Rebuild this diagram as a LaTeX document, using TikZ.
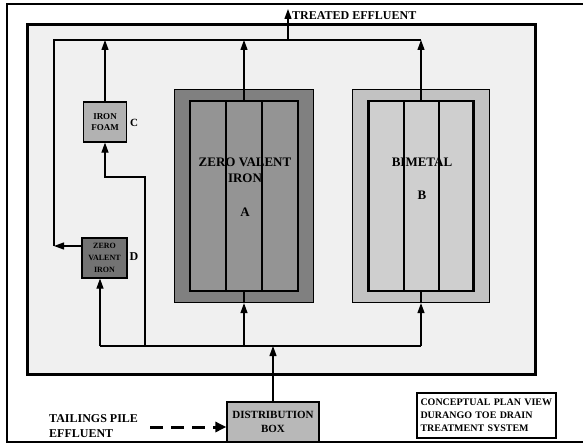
\documentclass[tikz,border=0pt]{standalone}
\usepackage{fontspec}
\setmainfont{Liberation Serif}
\usetikzlibrary{arrows.meta}
\newcommand\fsz[2]{\fontsize{#1}{#2}\selectfont\bfseries}

\begin{document}
\begin{tikzpicture}[x=1pt,y=-1pt,
  pipe/.style={line width=1.2pt},
  flow/.style={line width=1.2pt,-{Triangle[length=10pt,width=7pt]}},
  feedline/.style={line width=3pt,dash pattern=on 13pt off 8pt,-{Triangle[length=11pt,width=10pt]}},
  unit/.style={draw,line width=1.2pt,inner sep=0pt},
  cell/.style={draw,line width=2.2pt,inner sep=0pt,minimum height=190pt}]
\useasboundingbox (0,0) rectangle (583,444);
\fill[white] (0,0) rectangle (583,444);
\draw[line width=1.2pt] (583,4) -- (7,4) -- (7,442) -- (583,442);
\draw[line width=3pt,fill=black!6] (27,25) rectangle (535,374);

% reactor cells
\node[unit,fill=black!50,minimum width=139pt,minimum height=213pt] (A) at (244,196) {};
\node[cell,fill=black!42,minimum width=108pt] (Ain) at (A) {};
\draw[line width=2pt] (226,101) -- (226,291) (262,101) -- (262,291);
\node[unit,fill=black!24,minimum width=137pt,minimum height=213pt] (B) at (421,196) {};
\node[cell,fill=black!19,minimum width=105pt] (Bin) at (B) {};
\draw[line width=2pt] (403.5,101) -- (403.5,291) (438.5,101) -- (438.5,291);
\node[font=\fsz{13}{16},align=center] (Alab) at (245,170) {ZERO VALENT\\IRON};
\node[font=\fsz{13}{16}] (Aletter) at (245,212) {A};
\node[font=\fsz{13}{16}] (Blab) at (422,162) {BIMETAL};
\node[font=\fsz{13}{16}] (Bletter) at (422,195) {B};

% small units
\node[unit,fill=black!30,minimum width=43pt,minimum height=40pt,font=\fsz{9}{11},align=center] (foam) at (105,122) {IRON\\FOAM};
\node[font=\fsz{11}{13}] (Clab) at (134,123) {C};
\node[unit,fill=black!55,minimum width=45pt,minimum height=40pt,font=\fsz{8}{12},align=center] (zvi) at (104.5,258) {ZERO\\VALENT\\IRON};
\node[font=\fsz{12}{14}] (Dlab) at (134,257) {D};
\node[unit,fill=black!28,minimum width=92pt,minimum height=40pt,font=\fsz{11}{14},align=center] (dist) at (273,422) {DISTRIBUTION\\BOX};

% texts
\node[font=\fsz{12}{14},anchor=west,inner sep=0pt] (treated) at (292,16) {TREATED EFFLUENT};
\node[font=\fsz{12}{15},align=left,anchor=west,inner sep=0pt] (tail) at (49,426) {TAILINGS PILE\\EFFLUENT};
\node[draw,line width=1.2pt,inner sep=3.5pt,text width=132pt,minimum height=45pt,font=\fsz{10}{13},align=left] (caption) at (486.5,415.5) {CONCEPTUAL PLAN VIEW\\DURANGO TOE DRAIN\\TREATMENT SYSTEM};

\coordinate (tl) at (54,40);
\coordinate (tr) at (421,40);
\coordinate (tout) at (288,40);
\coordinate (ttip) at (288,9);
\coordinate (dleft) at (54,246);
\coordinate (fl) at (100,346);
\coordinate (fm) at (145,346);
\coordinate (fr) at (421,346);
\coordinate (bend) at (145,177);
\coordinate (dashstart) at (150,427);

% collector
\draw[pipe] (dleft) -- (tl) -- (tr);
\draw[flow] (zvi.west |- dleft) -- (dleft);
\draw[flow] (foam.north) -- (foam.north |- tl);
\draw[flow] (Ain.north) -- (Ain.north |- tl);
\draw[flow] (Bin.north) -- (tr);
\draw[flow] (tout) -- (ttip);

% feed
\draw[pipe] (fl) -- (fr);
\draw[flow] (fl) -- (fl |- zvi.south);
\draw[flow] (fm) -- (bend) -| (foam.south);
\draw[pipe] (Ain.south) -- (A.south);
\draw[flow] (A.south |- fl) -- (A.south);
\draw[pipe] (Bin.south) -- (B.south);
\draw[flow] (fr) -- (B.south);
\draw[flow] (dist.north) -- (dist.north |- fl);
\draw[feedline] (dashstart) -- (dashstart -| dist.west);
\end{tikzpicture}
\end{document}
